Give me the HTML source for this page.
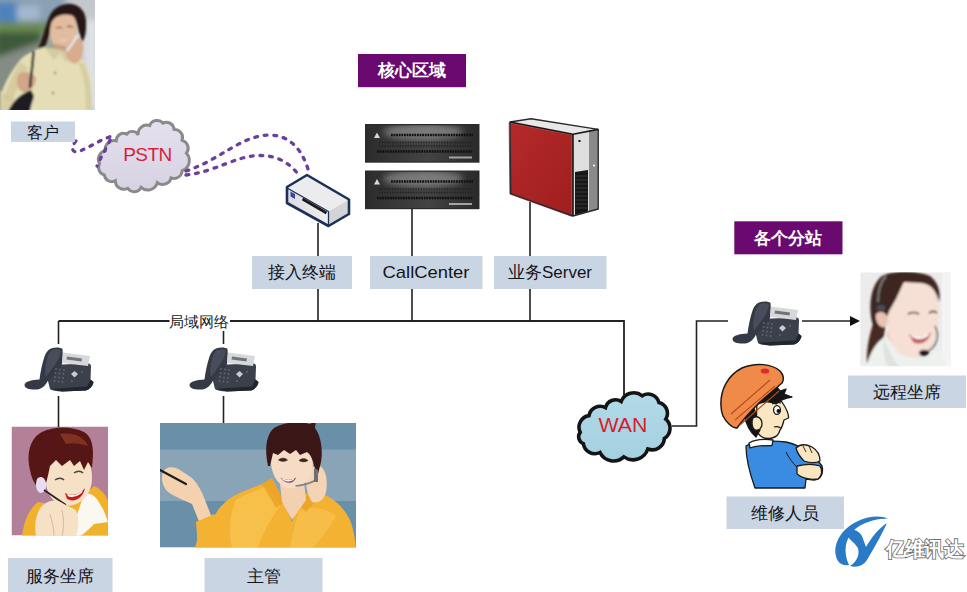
<!DOCTYPE html>
<html><head><meta charset="utf-8">
<style>
html,body{margin:0;padding:0;background:#fff;width:967px;height:592px;overflow:hidden}
svg{display:block;position:absolute;left:0;top:0}
text{font-family:"Liberation Sans",sans-serif}
.lab{fill:#c9d5e2}
.lt{font-size:17px;fill:#14141c;text-anchor:middle}
.pl{fill:#6a0a70}
.pt{font-size:17px;fill:#fff;font-weight:bold;text-anchor:middle}
.ln{stroke:#222;stroke-width:1.6;fill:none}
</style></head>
<body>
<svg width="967" height="592" viewBox="0 0 967 592">
<defs>
  <linearGradient id="srvg" x1="0" y1="0" x2="1" y2="0">
    <stop offset="0" stop-color="#2c2c2c"/><stop offset="0.55" stop-color="#444"/><stop offset="1" stop-color="#2a2a2a"/>
  </linearGradient>

  <filter id="bl05" x="-20%" y="-20%" width="140%" height="140%"><feGaussianBlur stdDeviation="0.45"/></filter>
  <filter id="bl1" x="-20%" y="-20%" width="140%" height="140%"><feGaussianBlur stdDeviation="0.8"/></filter>
  <filter id="bl2" x="-20%" y="-20%" width="140%" height="140%"><feGaussianBlur stdDeviation="3"/></filter>
</defs>
<!-- ========== PHOTO 1 (client) ========== -->
<clipPath id="cp1"><rect x="0" y="0" width="95" height="110"/></clipPath>
<g clip-path="url(#cp1)">
 <rect x="0" y="0" width="95" height="110" fill="#9aa49a"/>
 <g filter="url(#bl2)">
  <rect x="-5" y="-5" width="105" height="28" fill="#8aa0b4"/>
  <rect x="-5" y="2" width="22" height="20" fill="#4e82bc"/>
  <rect x="17" y="6" width="22" height="14" fill="#a4b8d0"/>
  <rect x="-5" y="22" width="60" height="12" fill="#6a8a52"/>
  <rect x="-5" y="32" width="46" height="28" fill="#3c5a3a"/>
  <path d="M-5 58 L40 42 L45 115 L-5 115Z" fill="#848c84"/>
  <rect x="66" y="-5" width="35" height="120" fill="#c4c8cc"/>
  <rect x="84" y="20" width="14" height="90" fill="#dfe2e4"/>
 </g>
 <g filter="url(#bl1)">
  <!-- hair -->
  <path d="M37 52 C41 42 45 28 49 17 C53 8 62 3 72 4 C82 6 87 14 86 26 C86 33 85 38 82 42 L76 22 C70 14 60 14 54 20 C50 30 48 40 44 50 Z" fill="#261814"/>
  <!-- face -->
  <path d="M51 24 C53 16 64 12 73 16 C78 21 78 34 74 43 C69 50 59 50 54 45 C50 40 49 32 51 24Z" fill="#e2bc9e"/>
  <path d="M56 28 C58 27 61 27 62 28.5 M67 27 C69 26 71.5 26 72.5 27.5" stroke="#5a3a2a" stroke-width="1.1" fill="none"/>
  <path d="M58 38 C61 41 66 41 69 38 C67 42 60 42 58 38Z" fill="#f0e0d8"/>
  <!-- neck -->
  <path d="M54 44 L66 46 L64 56 L54 56Z" fill="#c89c80"/>
  <!-- jacket -->
  <path d="M0 112 L1 96 C3 84 12 70 20 60 C26 54 34 50 44 47 L56 52 L70 54 C80 58 88 62 90 74 C92 88 90 100 92 112Z" fill="#e4ddb5"/>
  <path d="M44 47 L54 60 L60 53 L66 62 L72 54 L62 50Z" fill="#d4cba0"/>
  <path d="M0 90 C6 96 14 100 22 104 L18 112 L0 112Z" fill="#d8d0a4"/>
  <path d="M20 62 C14 72 8 84 4 98 L12 102 C16 90 22 78 28 68Z" fill="#cfc596" opacity="0.7"/>
  <path d="M78 62 C84 74 86 90 86 110 L92 110 C92 92 90 76 84 64Z" fill="#cdc394" opacity="0.6"/>
  <!-- left hand -->
  <path d="M19 74 C24 70 32 72 36 78 C36 86 30 92 23 92 C17 90 15 80 19 74Z" fill="#d2a686"/>
  <!-- right hand -->
  <path d="M66 54 C66 44 72 36 79 38 C84 42 84 52 80 60 C76 66 68 64 66 54Z" fill="#d8ac8c"/>
  <path d="M78 35 L67 51" stroke="#e4e6ea" stroke-width="2.5"/>
  <!-- bag strap and bag -->
  <path d="M33.5 51 C33 62 31 76 30 88" stroke="#1a1a1a" stroke-width="2.5" fill="none"/>
  <path d="M8 112 C12 102 20 94 31 90 L34 96 C32 104 30 108 30 112Z" fill="#1c1c20"/>
  <circle cx="55" cy="73" r="1.2" fill="#8a7a50"/>
  <circle cx="53" cy="93" r="1.2" fill="#8a7a50"/>
 </g>
</g>

<!-- ========== PHOTO 2 (agent cartoon) ========== -->
<clipPath id="cp2"><rect x="11.5" y="426.5" width="96.5" height="109"/></clipPath>
<g clip-path="url(#cp2)">
 <rect x="11.5" y="426.5" width="96.5" height="109" fill="#b3809a"/>
 <g filter="url(#bl05)">
 <!-- yellow shirt -->
 <path d="M22 536 C24 522 28 510 38 502 L60 506 L84 496 L94 486 C102 490 107 496 108 502 L108 536Z" fill="#f0b22a"/>
 <!-- white collar -->
 <path d="M84 494 C90 492 96 496 100 504 C104 510 106 516 108 522 L94 524 C88 530 84 534 80 536 L70 536 C74 524 80 506 84 494Z" fill="#fbf8f2"/>
 <!-- face -->
 <path d="M46 462 C50 456 64 452 78 454 C88 456 92 466 92 478 C92 490 86 500 76 504 C66 508 54 504 49 494 C45 486 44 472 46 462Z" fill="#f6e0c6"/>
 <!-- hair -->
 <path d="M30 470 C26 454 30 438 42 432 C54 426 72 426 84 432 C94 438 94 452 92 468 L88 462 L84 470 L80 461 L74 466 L70 460 L62 466 L56 460 L50 466 C48 476 46 484 44 490 C38 490 32 482 30 470Z" fill="#571912"/>
 <path d="M60 434 C72 432 84 436 88 446 C82 444 74 442 66 444 Z" fill="#8a3a26" opacity="0.8"/>
 <!-- eyes -->
 <path d="M55 480 C58 477.5 62 477.5 64 480 M74 473 C77 470.5 81 470.5 83 473" stroke="#4a4a3a" stroke-width="1.5" fill="none"/>
 <!-- smile -->
 <path d="M65 493 C72 497 80 494 85 488 C83 498 75 503 67 499Z" fill="#c41a1a"/>
 <path d="M67.5 494 C73 496.5 79 494 83 490 L82 492.5 C78 496.5 72 498 67.5 496Z" fill="#fff"/>
 <!-- headset -->
 <path d="M37 479 C40 475 45 477 46 483 C47 489 44 493 40 493 C36 491 35 485 37 479Z" fill="#e6def0"/>
 <path d="M44 490 L66 505" stroke="#222" stroke-width="1.6"/>
 <!-- hands -->
 <path d="M36 536 C34 526 36 512 42 506 C48 500 56 498 64 504 L76 510 C80 520 78 530 76 536Z" fill="#f6e0c6"/>
 <path d="M50 514 C52 522 54 528 54 536 M62 510 C64 520 64 528 62 536" stroke="#d8b89a" stroke-width="1" fill="none"/>
 </g>
</g>

<!-- ========== PHOTO 3 (supervisor cartoon) ========== -->
<clipPath id="cp3"><rect x="160" y="423" width="196" height="124.6"/></clipPath>
<g clip-path="url(#cp3)">
 <rect x="160" y="423" width="196" height="124.6" fill="#6a8fa9"/>
 <rect x="160" y="449.5" width="196" height="51.5" fill="#8aa4b7"/>
 <g filter="url(#bl05)">
 <!-- shirt -->
 <path d="M195 548 C198 535 204 525 212 520 L218 510 C224 502 232 496 242 492 L262 484 L272 478 L284 502 L292 522 L300 500 L312 488 L322 494 C334 498 344 508 350 520 C354 530 355 540 356 548Z" fill="#f4b232"/>
 <path d="M236 500 C246 494 258 490 268 486 L280 506 C270 520 262 534 258 548 L232 548 C228 530 230 512 236 500Z" fill="#f8c456" opacity="0.75"/>
 <path d="M300 510 C312 506 326 508 336 516 C330 528 320 540 312 548 L290 548 C292 534 296 520 300 510Z" fill="#f8c456" opacity="0.6"/>
 <path d="M212 520 C218 530 222 540 226 548 L204 548 C204 538 206 528 212 520Z" fill="#e89a20" opacity="0.8"/>
 <path d="M262 484 L272 478 L284 502 L276 508 Z M312 488 L322 494 L306 512 L300 506Z" fill="#e8a020" opacity="0.7"/>
 <!-- neck -->
 <path d="M280 484 L304 482 L306 500 L292 520 L282 502Z" fill="#f2d0b0"/>
 <!-- left hand + forearm -->
 <path d="M163 472 C166 466 174 466 180 470 L192 478 C198 484 202 492 205 500 L212 518 L200 524 L192 504 C184 500 172 496 166 490 C162 484 161 478 163 472Z" fill="#f4d2b0"/>
 <path d="M196 522 L214 514 C220 524 224 536 226 548 L198 548Z" fill="#f4b232"/>
 <path d="M160 470 L186 484" stroke="#1e1e1e" stroke-width="2.2" stroke-linecap="round"/>
 <!-- right hand at ear -->
 <path d="M306 480 C308 470 314 464 320 466 C326 470 328 480 326 492 C324 500 318 504 312 502 C308 496 306 488 306 480Z" fill="#f4d4b4"/>
 <!-- face -->
 <path d="M271 454 C274 446 290 444 304 446 C311 450 314 460 312.5 470 C311 480 302 488 291 488.5 C282 488 276 481 273 473 C271 466 270 460 271 454Z" fill="#f6dcc4"/>
 <!-- hair -->
 <path d="M268 466 C265 452 265 436 274 428 C284 422 298 421 310 424 L316 420 L315 428 C321 436 323 450 321 462 L318 474 L314 466 C313 460 311 455 307 452 L300 455 L296 450 L290 454 L284 450 L278 455 L273 453 L270 466Z" fill="#3a1512"/>
 <!-- eyes, smile -->
 <path d="M278.5 460 C281 457.5 285 457.5 287.5 460 C285 461.8 281 461.8 278.5 460Z M299 460.5 C301.5 458 305.5 458 308 460.5 C305.5 462.3 301.5 462.3 299 460.5Z" fill="#3a2420" stroke="#3a2420" stroke-width="0.6"/>
 <path d="M280.5 477.5 C285 480.5 292 480.5 296 477.5 C294.5 483.5 286 485.5 280.5 477.5Z" fill="#a8405a"/>
 <path d="M282 478.2 C286 480.3 291.5 480.3 294.5 478.2 L293.5 480 C290 482 286 482 282.5 479.5Z" fill="#fff"/>
 <!-- headset -->
 <path d="M295.5 486 C304 485 311 483 316 480" stroke="#7a8088" stroke-width="1.6" fill="none"/>
 <path d="M314 468 L318 470 L318 482 L314 482Z" fill="#6a7078"/>
 </g>
</g>

<!-- ========== PSTN CLOUD ========== -->
<linearGradient id="pstng" x1="0" y1="0" x2="0" y2="1"><stop offset="0" stop-color="#e4e0ee"/><stop offset="1" stop-color="#d6d2e2"/></linearGradient>
<path d="M97.5 164.0 A9.1 9.1 0 0 1 103.5 150.5 A9.4 9.4 0 0 1 115.0 140.0 A7.6 7.6 0 0 1 126.0 133.0 A7.0 7.0 0 0 1 138.0 134.0 A9.1 9.1 0 0 1 150.0 124.0 A8.2 8.2 0 0 1 164.0 121.5 A7.9 7.9 0 0 1 175.5 128.0 A8.7 8.7 0 0 1 184.0 139.5 A8.6 8.6 0 0 1 188.5 153.0 A11.4 11.4 0 0 1 184.0 171.5 A8.4 8.4 0 0 1 172.5 179.0 A9.2 9.2 0 0 1 158.0 184.0 A10.3 10.3 0 0 1 141.0 189.0 A8.1 8.1 0 0 1 127.0 190.0 A8.9 8.9 0 0 1 114.0 182.0 A7.8 7.8 0 0 1 102.5 176.0 A8.3 8.3 0 0 1 97.5 164.0Z" fill="url(#pstng)" stroke="#8a8a8a" stroke-width="3.1" transform="translate(143 156) scale(0.955 0.95) translate(-143 -156)"/>
<text x="147.5" y="161.3" style="font-size:19px;fill:#d81e3c;text-anchor:middle;letter-spacing:-0.5px">PSTN</text>

<!-- dotted lines -->
<g fill="none" stroke="#6c3e9c" stroke-width="3.3" stroke-linecap="round" stroke-dasharray="2.8 6.8">
 <path d="M76 141 C70 148 72 154 80 151 C90 147 100 140 112 136 C108 145 102 155 97 166"/>
 <path d="M186 171 C220 160 240 136 269 135 C290 135 302 150 308 169"/>
 <path d="M186 175 C215 172 235 156 259 155.5 C278 155 290 164 298 174"/>
</g>

<!-- ========== ACCESS DEVICE ========== -->
<linearGradient id="devf" x1="0" y1="0" x2="1" y2="0"><stop offset="0" stop-color="#dcdce0"/><stop offset="1" stop-color="#eeeef0"/></linearGradient>
<g stroke-linejoin="round">
 <path d="M287 187 L307 175 L349 199.5 L328.5 211.5Z" fill="#ececee"/>
 <path d="M287 187 L328.5 211.5 L328.5 225.5 L287 203Z" fill="url(#devf)"/>
 <path d="M328.5 211.5 L349 199.5 L349 214 L328.5 225.5Z" fill="#d4d4d8"/>
 <path d="M287 187 L307 175 L349 199.5 L349 214 L328.5 226 L287 203Z" fill="none" stroke="#1c3058" stroke-width="2.6"/>
 <path d="M288 188.5 L328.5 211.5 V225.5" fill="none" stroke="#1c3058" stroke-width="1.3"/>
 <path d="M290.5 191.5 L295 194 L295 199 L290.5 196.5Z" fill="#3848a0"/>
 <path d="M302.5 199 L326.5 213" stroke="#1a1a1a" stroke-width="2.8"/>
</g>

<!-- ========== SERVERS ========== -->
<clipPath id="srvclip"><rect x="1.2" y="1.2" width="112" height="36.3"/></clipPath>

<g transform="translate(365 124)">
 <rect x="0" y="0" width="114.5" height="38.7" fill="#2a2a2a"/>
 <rect x="1.2" y="1.2" width="112" height="36.3" fill="url(#srvg)"/>
 <g clip-path="url(#srvclip)"><ellipse cx="58" cy="8" rx="40" ry="8" fill="#b4b4b4" opacity="0.5" filter="url(#bl2)"/></g>
 <path d="M9 14 L12 8.5 L15 14Z" fill="#d8d8d8"/>
 <path d="M26 11 H108" stroke="#101010" stroke-width="2.6" stroke-dasharray="1.8 0.8"/>
 <path d="M14 18.5 H108" stroke="#1e1e1e" stroke-width="1.6" stroke-dasharray="1.4 1.2" opacity="0.9"/>
 <path d="M14 22 H108" stroke="#1e1e1e" stroke-width="1.6" stroke-dasharray="1.4 1.2" opacity="0.9"/>
 <path d="M12 27.5 H108" stroke="#101010" stroke-width="2.6" stroke-dasharray="1.8 0.8"/>
 <rect x="84" y="32.5" width="23" height="2" fill="#c8c8c8" opacity="0.75"/>
</g>
<g transform="translate(365 170.5)">
 <rect x="0" y="0" width="114.5" height="38.7" fill="#2a2a2a"/>
 <rect x="1.2" y="1.2" width="112" height="36.3" fill="url(#srvg)"/>
 <g clip-path="url(#srvclip)"><ellipse cx="58" cy="8" rx="40" ry="8" fill="#b4b4b4" opacity="0.5" filter="url(#bl2)"/></g>
 <path d="M9 14 L12 8.5 L15 14Z" fill="#d8d8d8"/>
 <path d="M26 11 H108" stroke="#101010" stroke-width="2.6" stroke-dasharray="1.8 0.8"/>
 <path d="M14 18.5 H108" stroke="#1e1e1e" stroke-width="1.6" stroke-dasharray="1.4 1.2" opacity="0.9"/>
 <path d="M14 22 H108" stroke="#1e1e1e" stroke-width="1.6" stroke-dasharray="1.4 1.2" opacity="0.9"/>
 <path d="M12 27.5 H108" stroke="#101010" stroke-width="2.6" stroke-dasharray="1.8 0.8"/>
 <rect x="84" y="32.5" width="23" height="2" fill="#c8c8c8" opacity="0.75"/>
</g>

<!-- ========== TOWER ========== -->
<linearGradient id="towr" x1="0" y1="0" x2="1" y2="1"><stop offset="0" stop-color="#b42a2a"/><stop offset="1" stop-color="#a01e1e"/></linearGradient>
<g stroke-linejoin="round">
 <path d="M510 122 L573 134.3 L573 216 L510.7 193.6Z" fill="url(#towr)"/>
 <path d="M510 122 L573 134.3 L573 216 L510.7 193.6Z" fill="none" stroke="#c05050" stroke-width="1" transform="translate(1.2 1.2) scale(0.996)"/>
 <path d="M510 122 L531 118.7 L598.2 129.4 L573 134.3Z" fill="#e8e8e8"/>
 <path d="M573 134.3 L598.2 129.4 L598.2 209 L573 216Z" fill="#dedede"/>
 <path d="M589 131.5 L598.2 129.4 L598.2 209 L589 211.5Z" fill="#8a8a8a"/>
 <path d="M575 172 L588 170 L588 211.5 L575 215Z" fill="#161616"/>
 <path d="M575.5 176 H587.5 M575.5 180 H587.5 M575.5 184 H587.5 M575.5 188 H587.5 M575.5 192 H587.5 M575.5 196 H587.5 M575.5 200 H587.5 M575.5 204 H587.5 M575.5 208 H587.5" stroke="#4a4a4a" stroke-width="0.7"/>
 <rect x="578.5" y="140" width="2" height="2" fill="#111"/>
 <circle cx="594" cy="165.5" r="1" fill="#fff"/>
 <path d="M510 122 L531 118.7 L598.2 129.4 L598.2 209 L573 216 L510.7 193.6Z" fill="none" stroke="#2a2a2a" stroke-width="1.4"/>
 <path d="M510 122 L573 134.3 L598.2 129.4 M573 134.3 V216" fill="none" stroke="#1a1a1a" stroke-width="1.6"/>
</g>

<!-- ========== LINES ========== -->
<g class="ln">
  <path d="M58.5 321 H624 V397" stroke-width="1.8"/>
  <path d="M318 223 V257 M318 289 V321"/>
  <path d="M412 209 V257 M412 289 V321"/>
  <path d="M530 202 V257 M530 289 V321"/>
  <path d="M58.5 321 V344 M58.5 396 V427"/>
  <path d="M223.5 331 V344 M223.5 396 V423"/>
  <path d="M672 426 H696.5 V321 H728"/>
  <path d="M802 321 H852"/>
</g>
<path d="M850 316 L860 321 L850 326 Z" fill="#111"/>

<!-- ========== LABELS ========== -->
<rect class="lab" x="11" y="121.5" width="64" height="20.5"/>
<text class="lt" x="43" y="138" style="font-size:16px">客户</text>

<rect class="lab" x="252" y="256" width="100" height="33"/>
<text class="lt" x="302" y="278">接入终端</text>
<rect class="lab" x="370" y="256" width="112.5" height="33"/>
<text class="lt" x="382.5" y="278" textLength="87" lengthAdjust="spacingAndGlyphs" style="text-anchor:start">CallCenter</text>
<rect class="lab" x="494" y="256" width="112.5" height="33"/>
<text class="lt" x="550" y="278">业务Server</text>

<rect class="lab" x="8" y="558" width="104.5" height="34"/>
<text class="lt" x="60" y="582">服务坐席</text>
<rect class="lab" x="204.5" y="558" width="118" height="34"/>
<text class="lt" x="263.5" y="582">主管</text>

<rect class="lab" x="848" y="375.5" width="118" height="32.5"/>
<text class="lt" x="907" y="398">远程坐席</text>
<rect class="lab" x="726.5" y="496.5" width="117.5" height="32.5"/>
<text class="lt" x="785" y="519">维修人员</text>

<rect x="169.5" y="313" width="60.5" height="16" fill="#fff"/>
<text x="199" y="327" style="font-size:15px;fill:#222;text-anchor:middle">局域网络</text>

<rect class="pl" x="358" y="54" width="108" height="33.2"/>
<text class="pt" x="412" y="76">核心区域</text>
<rect class="pl" x="734.3" y="221.3" width="108.2" height="33"/>
<text class="pt" x="788.4" y="244">各个分站</text>

<!-- ========== WAN CLOUD ========== -->
<linearGradient id="wang" x1="0" y1="0" x2="0" y2="1"><stop offset="0" stop-color="#b2dae8"/><stop offset="1" stop-color="#a4d0e0"/></linearGradient>
<path d="M580.2 432.3 A11.7 11.7 0 0 1 589.0 415.6 A11.4 11.4 0 0 1 605.5 407.6 A10.4 10.4 0 0 1 621.2 401.5 A13.6 13.6 0 0 1 642.3 395.8 A11.1 11.1 0 0 1 658.9 402.4 A11.2 11.2 0 0 1 665.8 419.1 A12.0 12.0 0 0 1 664.4 438.4 A12.2 12.2 0 0 1 647.8 449.0 A15.6 15.6 0 0 1 623.9 456.9 A15.1 15.1 0 0 1 600.0 452.5 A11.6 11.6 0 0 1 583.4 443.7 A7.4 7.4 0 0 1 580.2 432.3Z" fill="url(#wang)" stroke="#141414" stroke-width="3.6"/>
<text x="598.5" y="432" textLength="49" lengthAdjust="spacingAndGlyphs" style="font-size:19.5px;fill:#d81e2a">WAN</text>

<!-- ========== PHOTO 4 (remote agent) ========== -->
<clipPath id="cp4"><rect x="860.2" y="272.3" width="90.6" height="94"/></clipPath>
<g clip-path="url(#cp4)">
 <rect x="860.2" y="272.3" width="90.6" height="94" fill="#ececec"/>
 <rect x="942" y="272.3" width="10" height="94" fill="#f4f4f4"/>
 <g filter="url(#bl1)">
 <!-- ponytail -->
 <path d="M875 318 C870 332 866 348 867 364 C872 358 880 346 884 336 L886 320Z" fill="#4a2c24"/>
 <!-- shirt -->
 <path d="M866 368 C870 352 876 342 886 336 L900 350 L920 360 L940 350 C944 356 946 362 946 368Z" fill="#eef2ee"/>
 <path d="M884 338 C888 350 894 360 900 368 L888 368 C884 358 882 348 884 338Z" fill="#dce4de"/>
 <!-- neck -->
 <path d="M888 330 L910 342 L916 358 L900 354 L886 336Z" fill="#efd0c0"/>
 <!-- face -->
 <path d="M886 300 C890 288 902 281 918 281 C932 282 939 292 939 310 C939 328 936 344 926 354 C918 360 904 358 896 350 C889 342 886 322 886 300Z" fill="#f6dfd4"/>
 <!-- hair -->
 <path d="M872 322 C868 302 872 284 882 276 C894 270 916 270 930 276 C938 282 941 292 939 302 L937 296 C934 288 928 283 920 283 L904 282 C900 290 896 300 892 306 C888 312 886 320 884 328 L874 328Z" fill="#3c2822"/>
 <!-- ear -->
 <path d="M876 314 C880 310 886 312 888 318 C888 324 886 328 882 327 C878 326 875 320 876 314Z" fill="#eac4b2"/>
 <!-- eyes, mouth -->
 <path d="M908 314 C911 312 916 312 919 314 M929 313 C932 311 935 311 937 313" stroke="#2a1a18" stroke-width="1.6" fill="none"/>
 <path d="M909 334 C916 338 925 338 931 332 C929 342 921 346 913 342Z" fill="#c06060"/>
 <path d="M911 334.5 C917 337.5 924 337.5 929 333 L928 336 C923 340 917 340 911.5 336.5Z" fill="#fff"/>
 <!-- headset -->
 <path d="M878 302 C878 290 880 282 886 276" stroke="#808080" stroke-width="1.8" fill="none"/>
 <ellipse cx="881" cy="308" rx="4.5" ry="3" fill="#4a4e56"/>
 <path d="M935 326 C940 336 936 348 926 352" stroke="#222" stroke-width="1.2" fill="none"/>
 <ellipse cx="924" cy="353" rx="5" ry="3.2" fill="#1a1a1a"/>
 </g>
</g>

<!-- ========== WORKER CARTOON ========== -->
<g stroke="#1a1a1a" stroke-width="1.3" stroke-linejoin="round">
 <!-- shirt -->
 <path d="M746 446 C752 442 768 440 786 442 C796 444 806 450 814 456 L822 466 C824 474 820 480 814 480 L806 479 L805 488 L755 488 C750 474 746 460 746 446Z" fill="#3a8ce2"/>
 <path d="M786 452 C790 460 796 468 806 474" fill="none" stroke-width="1"/>
 <!-- fingers -->
 <path d="M796 448 C800 444 806 444 812 447 C817 450 820 455 820 461 C816 463 810 463 804 461 C800 457 797 452 796 448Z" fill="#fbe6c2"/>
 <path d="M803 446 L806 452 M809 446 L812 453" fill="none" stroke-width="0.9"/>
 <!-- lower forearm -->
 <path d="M797 466 C805 464 814 464 820 466 C823 470 822 476 818 479 C810 480 802 478 797 474Z" fill="#fbe6c2"/>
 <!-- collar -->
 <path d="M749 443 C756 439 765 439 773 440 L772 445.5 C764 445.5 756 446 750 448Z" fill="#fff"/>
 <!-- face -->
 <path d="M757 402 C764 396 776 396 782 402 C786 408 789 414 788.5 418 L784 420 C783 424 782 428 780 430 C779 434 777 437 772 438 C764 440 758 436 756 428Z" fill="#fbe6c2"/>
 <!-- hair -->
 <path d="M760 393 L766 388 L770 391 L776 386 L780 391 L786 389 L784 394 L792 397 C786 398 780 400 776 404 C770 401 764 401 758 404Z" fill="#141414"/>
 <path d="M744 414 C746 424 750 432 756 437 L760 430 C758 422 756 414 754 408Z" fill="#141414"/>
 <!-- ear -->
 <path d="M753 418 C757 415 762 418 762 424 C762 428 759 431 755 430 C752 428 751 422 753 418Z" fill="#fbe6c2"/>
 <!-- eye -->
 <ellipse cx="777" cy="410" rx="3.4" ry="4.4" fill="#fff"/>
 <circle cx="778.5" cy="411" r="2" fill="#111" stroke="none"/>
 <path d="M772 404 C775 402 778 402 781 403" fill="none"/>
 <path d="M774 427 C777 426 779 427 781 428" fill="none"/>
 <!-- hat -->
 <path d="M721 406 C720 390 728 375 742 368 C756 362 772 364 780 371 C784 375 784 380 782 383 L760 402 C752 410 744 418 737 428 C732 428 726 422 723 416 C721.5 412 721 409 721 406Z" fill="#f08a48" stroke-width="1.5"/>
 <path d="M731 414 L770 380 M735 420 L775 386 M740 425 L779 391" fill="none" stroke="#b84a20" stroke-width="1.1"/>
 <ellipse cx="765" cy="371" rx="4.2" ry="2.6" fill="#e02830" stroke="none"/>
</g>

<!-- ========== LOGO ========== -->
<g>
 <path d="M838 561 C831 549 838 531 856 522 C868 516 881 515 888 519 C877 518 864 522 854 530 C845 539 843 552 849 565 C844 566 840 564 838 561Z" fill="#2a7ac6"/>
 <path d="M844 533 C849 527 858 529 862 536 L866 547 C872 537 878 529 887 523 C882 534 874 548 867 560 C863 566 857 568 850 566 C856 562 860 556 858 548 C854 542 848 538 844 533Z" fill="#2a7ac6"/>
 <text x="924.5" y="555.5" style="font-size:20px;font-weight:bold;fill:#fff;stroke:#6e6e6e;stroke-width:1.7px;paint-order:stroke;text-anchor:middle;letter-spacing:-0.6px">亿维讯达</text>
</g>

<!-- ========== PHONES ========== -->
<g id="phone" transform="translate(22 344)" filter="url(#bl05)">
 <path d="M27 21 L66.5 19.5 C68 19.5 69 20.5 69 22.5 L68.5 35.5 L71.5 38 C71 41.5 68 45.5 64 46.5 L40 47.5 C34 47.5 30 46.5 28 45 L25 33Z" fill="#3a3f4b"/>
 <path d="M28 45 L40 47.5 L64 46.5 C68 45.5 71 41.5 71.5 38 L68.5 35.5 L65 42.5 L40 44 Z" fill="#24282f"/>
 <path d="M29 4.5 C33 3 38.5 3.2 40.5 5 C41 10 40.5 15 40 20 L37 26 C33 30 29 33 26 36.5 C24 40.5 21 44.5 15.5 45.5 C8 46 2.5 44.5 2.5 41 C3 37.5 9 36 17.5 35.5 C18.5 28 20 20 22.5 12.5 C24 8 26.5 5.5 29 4.5Z" fill="#353945"/>
 <path d="M30 6 C33 5 37 5 39 6.5 C38 12 36 17 32 22 C29 26 26 30 24 33 C22.5 28 23.5 20 25.5 13 C27 9 28.5 7 30 6Z" fill="#474d5a"/>
 <path d="M41 8.5 L68 12 L66 22 L40 19Z" fill="#d6d8dc"/>
 <path d="M45 12.5 L60 14.5 L59.5 17.5 L44.5 15.5Z" fill="#70747a"/>
 <path d="M52.5 27 L56 30 L52.5 33.5 L49 30Z" fill="#c8ccd2"/>
 <g fill="#626878">
  <circle cx="34" cy="25" r="0.9"/><circle cx="38" cy="25.5" r="0.9"/><circle cx="42" cy="26" r="0.9"/>
  <circle cx="33.5" cy="29" r="0.9"/><circle cx="37.5" cy="29.5" r="0.9"/><circle cx="41.5" cy="30" r="0.9"/>
  <circle cx="33" cy="33" r="0.9"/><circle cx="37" cy="33.5" r="0.9"/><circle cx="41" cy="34" r="0.9"/>
  <circle cx="32.5" cy="37" r="0.9"/><circle cx="36.5" cy="37.5" r="0.9"/><circle cx="40.5" cy="38" r="0.9"/>
  <circle cx="60" cy="28" r="0.9"/><circle cx="50" cy="37" r="0.9"/>
 </g>
</g>
<use href="#phone" transform="translate(165 0)"/>
<use href="#phone" transform="translate(708 -46)"/>

</svg>
</body></html>
